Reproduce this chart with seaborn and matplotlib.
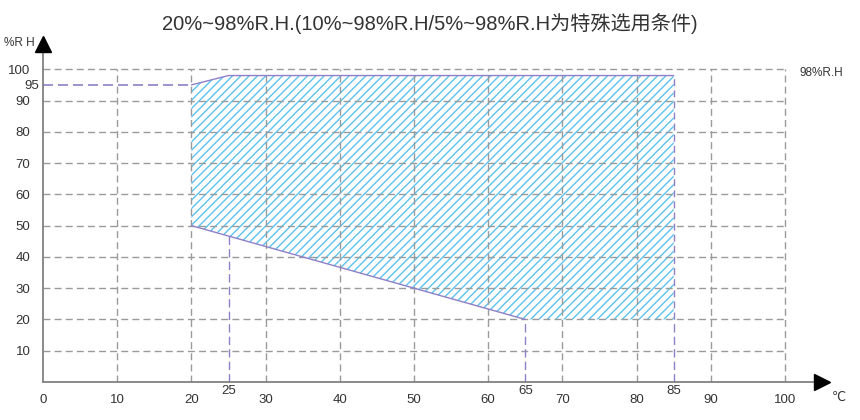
import matplotlib
matplotlib.use('Agg')
import matplotlib.pyplot as plt
import seaborn as sns
import numpy as np

# data
temp_ticks = [0, 10, 20, 30, 40, 50, 60, 70, 80, 90, 100]
rh_ticks = [10, 20, 30, 40, 50, 60, 70, 80, 90, 100]
region_temp = [20, 20, 25, 85, 85, 65, 20]
region_rh = [50, 95, 98, 98, 20, 20, 50]
mark_temps = [25, 65, 85]
mark_rh = [46.7, 20, 20]
mark_rh_label = 95
title = '20%~98%R.H.(10%~98%R.H/5%~98%R.H为特殊选用条件)'

sns.set_style('white')
plt.rcParams['font.family'] = ['Liberation Sans', 'Noto Sans CJK SC', 'DejaVu Sans']
plt.rcParams['hatch.linewidth'] = 1.0

grid_c = '#9a9a9a'
purple = '#8f80c8'
blue = '#5cc3ee'
text_c = '#333333'

fig = plt.figure(figsize=(8.6, 4.2), dpi=100)
ax = fig.add_axes([0.05, 0.0905, 0.9146, 0.819])
ax.set_xlim(0, 106)
ax.set_ylim(0, 110)
for s in ax.spines.values():
    s.set_visible(False)

# grid, only inside 0..100
ax.vlines(temp_ticks[1:], 0, 100, colors=grid_c, linestyles=(0, (5, 3)), linewidth=1)
ax.hlines(rh_ticks, 0, 100, colors=grid_c, linestyles=(0, (5, 3)), linewidth=1)

# hatched working range
ax.fill(region_temp, region_rh, facecolor='none', edgecolor=blue, hatch='////', linewidth=0)

# boundary lines
ax.plot(region_temp[1:4], region_rh[1:4], color=purple, lw=1)
ax.plot([region_temp[0], region_temp[5]], [region_rh[0], region_rh[5]], color=purple, lw=1)
ax.vlines(85, 20, 98, colors=purple, linestyles=(0, (5, 3)), linewidth=1)

# reference dashed markers
ax.hlines(mark_rh_label, 0, 20, colors=purple, linestyles=(0, (6, 3)), linewidth=1.2)
ax.vlines(mark_temps, 0, mark_rh, colors=purple, linestyles=(0, (6, 3)), linewidth=1)

# axes with arrows
ax.plot([0, 104], [0, 0], color='#777777', lw=1.2, clip_on=False)
ax.plot([0, 0], [0, 107], color='#777777', lw=1.2, clip_on=False)
ax.plot([105], [0], marker='>', color='black', markersize=11, clip_on=False)
ax.plot([0], [108], marker='^', color='black', markersize=11, clip_on=False)

# ticks
ax.set_xticks(temp_ticks)
ax.set_xticklabels([str(t) for t in temp_ticks])
ax.set_xticks(mark_temps, minor=True)
ax.set_xticklabels([str(t) for t in mark_temps], minor=True)
ax.set_yticks(rh_ticks)
ax.set_yticklabels([str(t) for t in rh_ticks])
ax.set_yticks([mark_rh_label], minor=True)
ax.set_yticklabels([str(mark_rh_label)], minor=True)
ax.tick_params(axis='both', which='both', length=0, labelsize=9.5, labelcolor=text_c)
ax.tick_params(axis='x', which='major', pad=9)
ax.tick_params(axis='x', which='minor', pad=2)
ax.tick_params(axis='y', which='major', pad=9)
ax.tick_params(axis='y', which='minor', pad=3)

ax.text(-5.3, 108.5, '%R H', fontsize=8.5, color=text_c, ha='left', va='center', clip_on=False)
ax.text(106.3, -4.8, '℃', fontsize=9, color=text_c, ha='left', va='center',
        family=['DejaVu Sans'], clip_on=False)
ax.text(102, 98.7, '98%R.H', fontsize=8.5, color=text_c, ha='left', va='center', clip_on=False)

fig.text(0.5, 0.945, title, fontsize=14.5, color=text_c, ha='center', va='center')

fig.savefig('out.png', dpi=100)
